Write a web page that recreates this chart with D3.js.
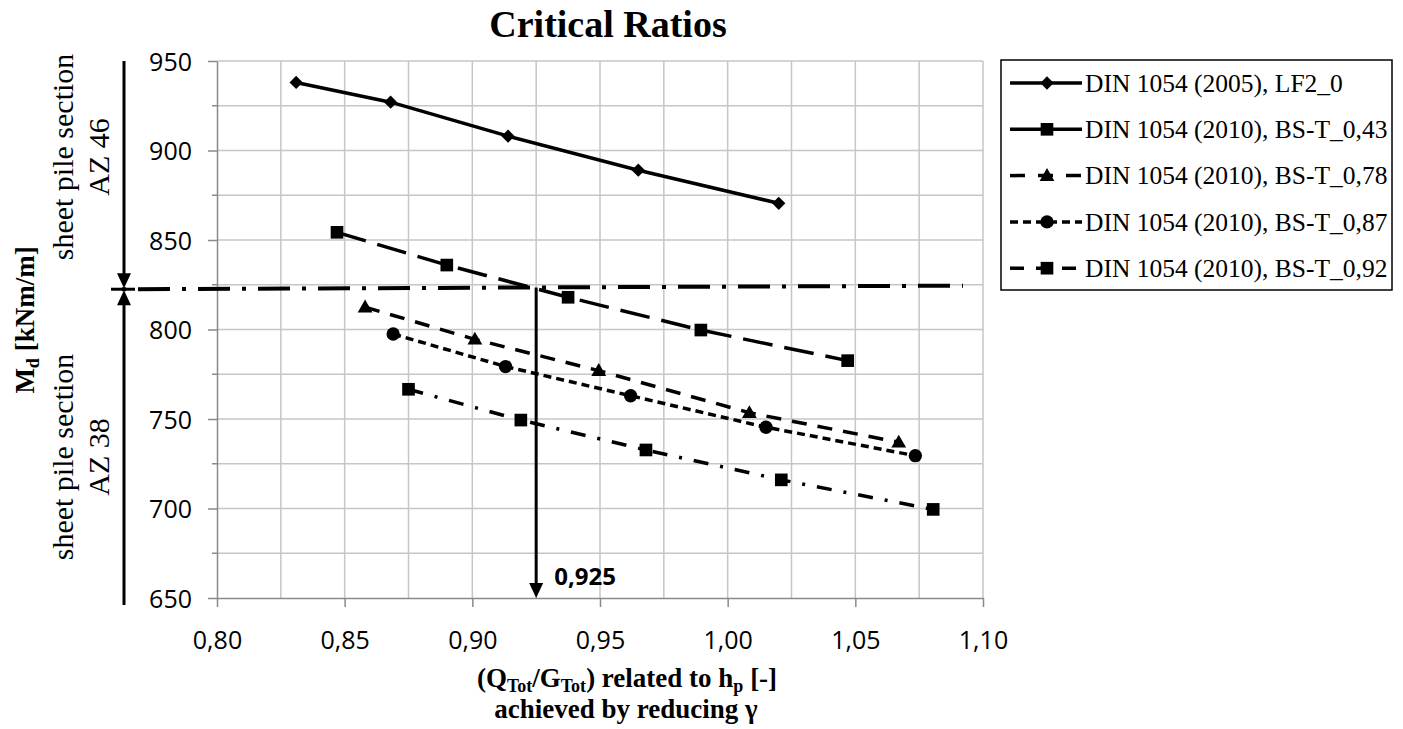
<!DOCTYPE html>
<html>

<head>
  <meta charset="utf-8">
  <title>Critical Ratios</title>
  <style>
    body {
      margin: 0;
      background: #fff;
    }

    svg text {
      fill: #000;
    }

    .serif {
      font-family: "Liberation Serif", "Times New Roman", serif;
    }

    .sans {
      font-family: "Open Sans", "Liberation Sans", sans-serif;
    }

    .grid line {
      stroke: #c6c6c6;
      stroke-width: 1.5px;
    }
  </style>
</head>

<body>
  <svg class="chart" width="1403" height="729"></svg>

  <script src="https://d3js.org/d3.v7.min.js"></script>
  <script>
    // series values
    var seriesNames = [
      'DIN 1054 (2005), LF2_0',
      'DIN 1054 (2010), BS-T_0,43',
      'DIN 1054 (2010), BS-T_0,78',
      'DIN 1054 (2010), BS-T_0,87',
      'DIN 1054 (2010), BS-T_0,92'
    ];
    var lf20X = [0.831, 0.868, 0.914, 0.965, 1.020];
    var lf20Y = [938, 927, 908, 889, 870.5];
    var bst043X = [0.847, 0.890, 0.9375, 0.9895, 1.047];
    var bst043Y = [854.3, 836, 818, 799.7, 782.6];
    var bst078X = [0.858, 0.901, 0.9495, 1.0085, 1.067];
    var bst078Y = [812.5, 794.5, 777, 753.5, 737];
    var bst087X = [0.869, 0.913, 0.962, 1.015, 1.0735];
    var bst087Y = [797.5, 779.3, 763, 745.4, 729.5];
    var bst092X = [0.875, 0.919, 0.968, 1.021, 1.0805];
    var bst092Y = [766.6, 749.4, 732.7, 716, 699.5];

    var xTicks = [0.80, 0.85, 0.90, 0.95, 1.00, 1.05, 1.10];
    var yTicks = [650, 700, 750, 800, 850, 900, 950];
    var criticalRatio = 0.925;
    var limitMoment = [822.5, 824.5]; // AZ 46 / AZ 38 border, left and right end

    var svg = d3.select('svg.chart');

    var x = d3.scaleLinear().domain([0.80, 1.10]).range([217, 983]);
    var y = d3.scaleLinear().domain([650, 950]).range([598, 61]);

    // gridlines every half step
    var grid = svg.append('g').classed('grid', true);
    grid.selectAll('line.v')
      .data(d3.range(0.825, 1.1001, 0.025))
      .enter().append('line')
      .attr('x1', function(d) { return x(d); })
      .attr('x2', function(d) { return x(d); })
      .attr('y1', y(650))
      .attr('y2', y(950));
    grid.selectAll('line.h')
      .data(d3.range(675, 950.1, 25))
      .enter().append('line')
      .attr('x1', x(0.80))
      .attr('x2', x(1.10))
      .attr('y1', function(d) { return y(d); })
      .attr('y2', function(d) { return y(d); });

    var xAxis = svg.append('g')
      .attr('transform', 'translate(0,' + y(650) + ')')
      .call(d3.axisBottom(x).tickValues(xTicks).tickSize(9).tickSizeOuter(0).tickPadding(24)
        .tickFormat(function(d) { return d3.format('.2f')(d).replace('.', ','); }));
    var yAxis = svg.append('g')
      .attr('transform', 'translate(' + x(0.80) + ',0)')
      .call(d3.axisLeft(y).tickValues(yTicks).tickSize(9).tickSizeOuter(0).tickPadding(16));

    [xAxis, yAxis].forEach(function(axis) {
      axis.select('.domain').attr('stroke', '#8a8a8a').attr('stroke-width', 1.5);
      axis.selectAll('.tick line').attr('stroke', '#8a8a8a').attr('stroke-width', 1.5);
      axis.selectAll('.tick text')
        .classed('sans', true)
        .attr('font-size', 25)
        .attr('fill', '#222');
    });
    yAxis.selectAll('.tick text').attr('dy', '0.36em');
    yAxis.selectAll('.minor')
      .data(d3.range(675, 950, 50))
      .enter().append('line')
      .attr('x1', -5).attr('x2', 0)
      .attr('y1', function(d) { return y(d); })
      .attr('y2', function(d) { return y(d); })
      .attr('stroke', '#8a8a8a').attr('stroke-width', 1.5);

    var series = [
      { xs: lf20X, ys: lf20Y, symbol: 'diamond', dash: null, legendDash: null },
      { xs: bst043X, ys: bst043Y, symbol: 'square', dash: '30,12', legendDash: null },
      { xs: bst078X, ys: bst078Y, symbol: 'triangle', dash: '15,11', legendDash: '15,13' },
      { xs: bst087X, ys: bst087Y, symbol: 'circle', dash: '8,5', legendDash: '8,5' },
      { xs: bst092X, ys: bst092Y, symbol: 'square', dash: '15,12,3,12', legendDash: '14,12' }
    ];

    function symbolPath(name) {
      if (name === 'diamond') return d3.symbol(d3.symbolSquare, 88)();
      if (name === 'square') return d3.symbol(d3.symbolSquare, 160)();
      if (name === 'triangle') return d3.symbol(d3.symbolTriangle, 95)();
      return d3.symbol(d3.symbolCircle, 140)();
    }

    function symbolTransform(name, px, py) {
      var t = 'translate(' + px + ',' + py + ')';
      if (name === 'diamond') t += ' rotate(45)';
      if (name === 'triangle') t += ' translate(0,1)';
      return t;
    }

    var line = d3.line()
      .x(function(d) { return x(d[0]); })
      .y(function(d) { return y(d[1]); });

    series.forEach(function(s) {
      var pts = d3.zip(s.xs, s.ys);
      svg.append('path')
        .datum(pts)
        .attr('d', line)
        .attr('fill', 'none')
        .attr('stroke', '#000')
        .attr('stroke-width', 3.5)
        .attr('stroke-dasharray', s.dash);
      svg.append('g').selectAll('path')
        .data(pts)
        .enter().append('path')
        .attr('d', symbolPath(s.symbol))
        .attr('transform', function(d) { return symbolTransform(s.symbol, x(d[0]), y(d[1])); })
        .attr('fill', '#000');
    });

    // border between the two sheet pile sections
    svg.append('line')
      .attr('x1', 122).attr('x2', 963)
      .attr('y1', y(limitMoment[0])).attr('y2', y(limitMoment[1]))
      .attr('stroke', '#000')
      .attr('stroke-width', 4)
      .attr('stroke-dasharray', '4,12,32,12');

    function arrowHead(px, py, dir) {
      // dir 1 = pointing down, -1 = pointing up
      return 'M' + px + ',' + py + 'L' + (px - 7) + ',' + (py - dir * 15) + 'L' + (px + 7) + ',' + (py - dir * 15) + 'Z';
    }

    // 0,925 marker
    var yLimitAtRatio = y(limitMoment[0] + (limitMoment[1] - limitMoment[0]) * (x(criticalRatio) - 122) / (963 - 122));
    svg.append('line')
      .attr('x1', x(criticalRatio)).attr('x2', x(criticalRatio))
      .attr('y1', yLimitAtRatio).attr('y2', y(650) - 10)
      .attr('stroke', '#000').attr('stroke-width', 3);
    svg.append('path')
      .attr('d', arrowHead(x(criticalRatio), y(650), 1))
      .attr('fill', '#000');
    svg.append('text')
      .classed('sans', true)
      .attr('x', x(criticalRatio) + 18)
      .attr('y', y(650) - 13)
      .attr('font-size', 24)
      .attr('font-weight', 'bold')
      .text(d3.format('.3f')(criticalRatio).replace('.', ','));

    // section brackets on the left
    var bx = 124;
    var yb = y(limitMoment[0]);
    svg.append('line').attr('x1', bx).attr('x2', bx).attr('y1', y(950)).attr('y2', yb - 10)
      .attr('stroke', '#000').attr('stroke-width', 3);
    svg.append('path').attr('d', arrowHead(bx, yb - 1, 1)).attr('fill', '#000');
    svg.append('line').attr('x1', bx).attr('x2', bx).attr('y1', yb + 10).attr('y2', 605)
      .attr('stroke', '#000').attr('stroke-width', 3);
    svg.append('path').attr('d', arrowHead(bx, yb + 1, -1)).attr('fill', '#000');
    svg.append('line').attr('x1', 111).attr('x2', 135).attr('y1', yb).attr('y2', yb)
      .attr('stroke', '#000').attr('stroke-width', 3);

    function sectionLabel(cy, name) {
      var t = svg.append('text')
        .classed('serif', true)
        .attr('transform', 'translate(73,' + cy + ') rotate(-90)')
        .attr('text-anchor', 'middle')
        .attr('font-size', 30);
      t.append('tspan').attr('x', 0).attr('y', 0).text('sheet pile section');
      t.append('tspan').attr('x', 0).attr('y', 36).text(name);
    }
    sectionLabel(157, 'AZ 46');
    sectionLabel(457, 'AZ 38');

    // titles
    svg.append('text')
      .classed('serif', true)
      .attr('x', 608).attr('y', 37)
      .attr('text-anchor', 'middle')
      .attr('font-size', 38)
      .attr('font-weight', 'bold')
      .text('Critical Ratios');

    var yTitle = svg.append('text')
      .classed('serif', true)
      .attr('transform', 'translate(34,320) rotate(-90)')
      .attr('text-anchor', 'middle')
      .attr('font-size', 27)
      .attr('font-weight', 'bold');
    yTitle.append('tspan').text('M');
    yTitle.append('tspan').attr('font-size', 18).attr('dy', 5).text('d');
    yTitle.append('tspan').attr('dy', -5).text(' [kNm/m]');

    var xTitle = svg.append('text')
      .classed('serif', true)
      .attr('x', 627).attr('y', 687)
      .attr('text-anchor', 'middle')
      .attr('font-size', 27)
      .attr('font-weight', 'bold');
    xTitle.append('tspan').text('(Q');
    xTitle.append('tspan').attr('font-size', 18).attr('dy', 5).text('Tot');
    xTitle.append('tspan').attr('dy', -5).text('/G');
    xTitle.append('tspan').attr('font-size', 18).attr('dy', 5).text('Tot');
    xTitle.append('tspan').attr('dy', -5).text(') related to h');
    xTitle.append('tspan').attr('font-size', 18).attr('dy', 5).text('p');
    xTitle.append('tspan').attr('dy', -5).text(' [-]');
    svg.append('text')
      .classed('serif', true)
      .attr('x', 626).attr('y', 718)
      .attr('text-anchor', 'middle')
      .attr('font-size', 27)
      .attr('font-weight', 'bold')
      .text('achieved by reducing \u03b3');

    // legend
    var legend = svg.append('g').attr('transform', 'translate(1001,60)');
    legend.append('rect')
      .attr('width', 391).attr('height', 230)
      .attr('fill', '#fff').attr('stroke', '#000').attr('stroke-width', 1.5);
    var rows = legend.selectAll('g.row')
      .data(series)
      .enter().append('g')
      .attr('transform', function(d, i) { return 'translate(0,' + (23 + i * 46.3) + ')'; });
    rows.append('line')
      .attr('x1', 9).attr('x2', 81)
      .attr('stroke', '#000').attr('stroke-width', 3.5)
      .attr('stroke-dasharray', function(d) { return d.legendDash; });
    rows.append('path')
      .attr('d', function(d) { return symbolPath(d.symbol); })
      .attr('transform', function(d) { return symbolTransform(d.symbol, 46, 0); })
      .attr('fill', '#000');
    rows.append('text')
      .classed('serif', true)
      .attr('x', 84).attr('y', 0).attr('dy', '0.34em')
      .attr('font-size', 25.5)
      .text(function(d, i) { return seriesNames[i]; });
  </script>
</body>

</html>
